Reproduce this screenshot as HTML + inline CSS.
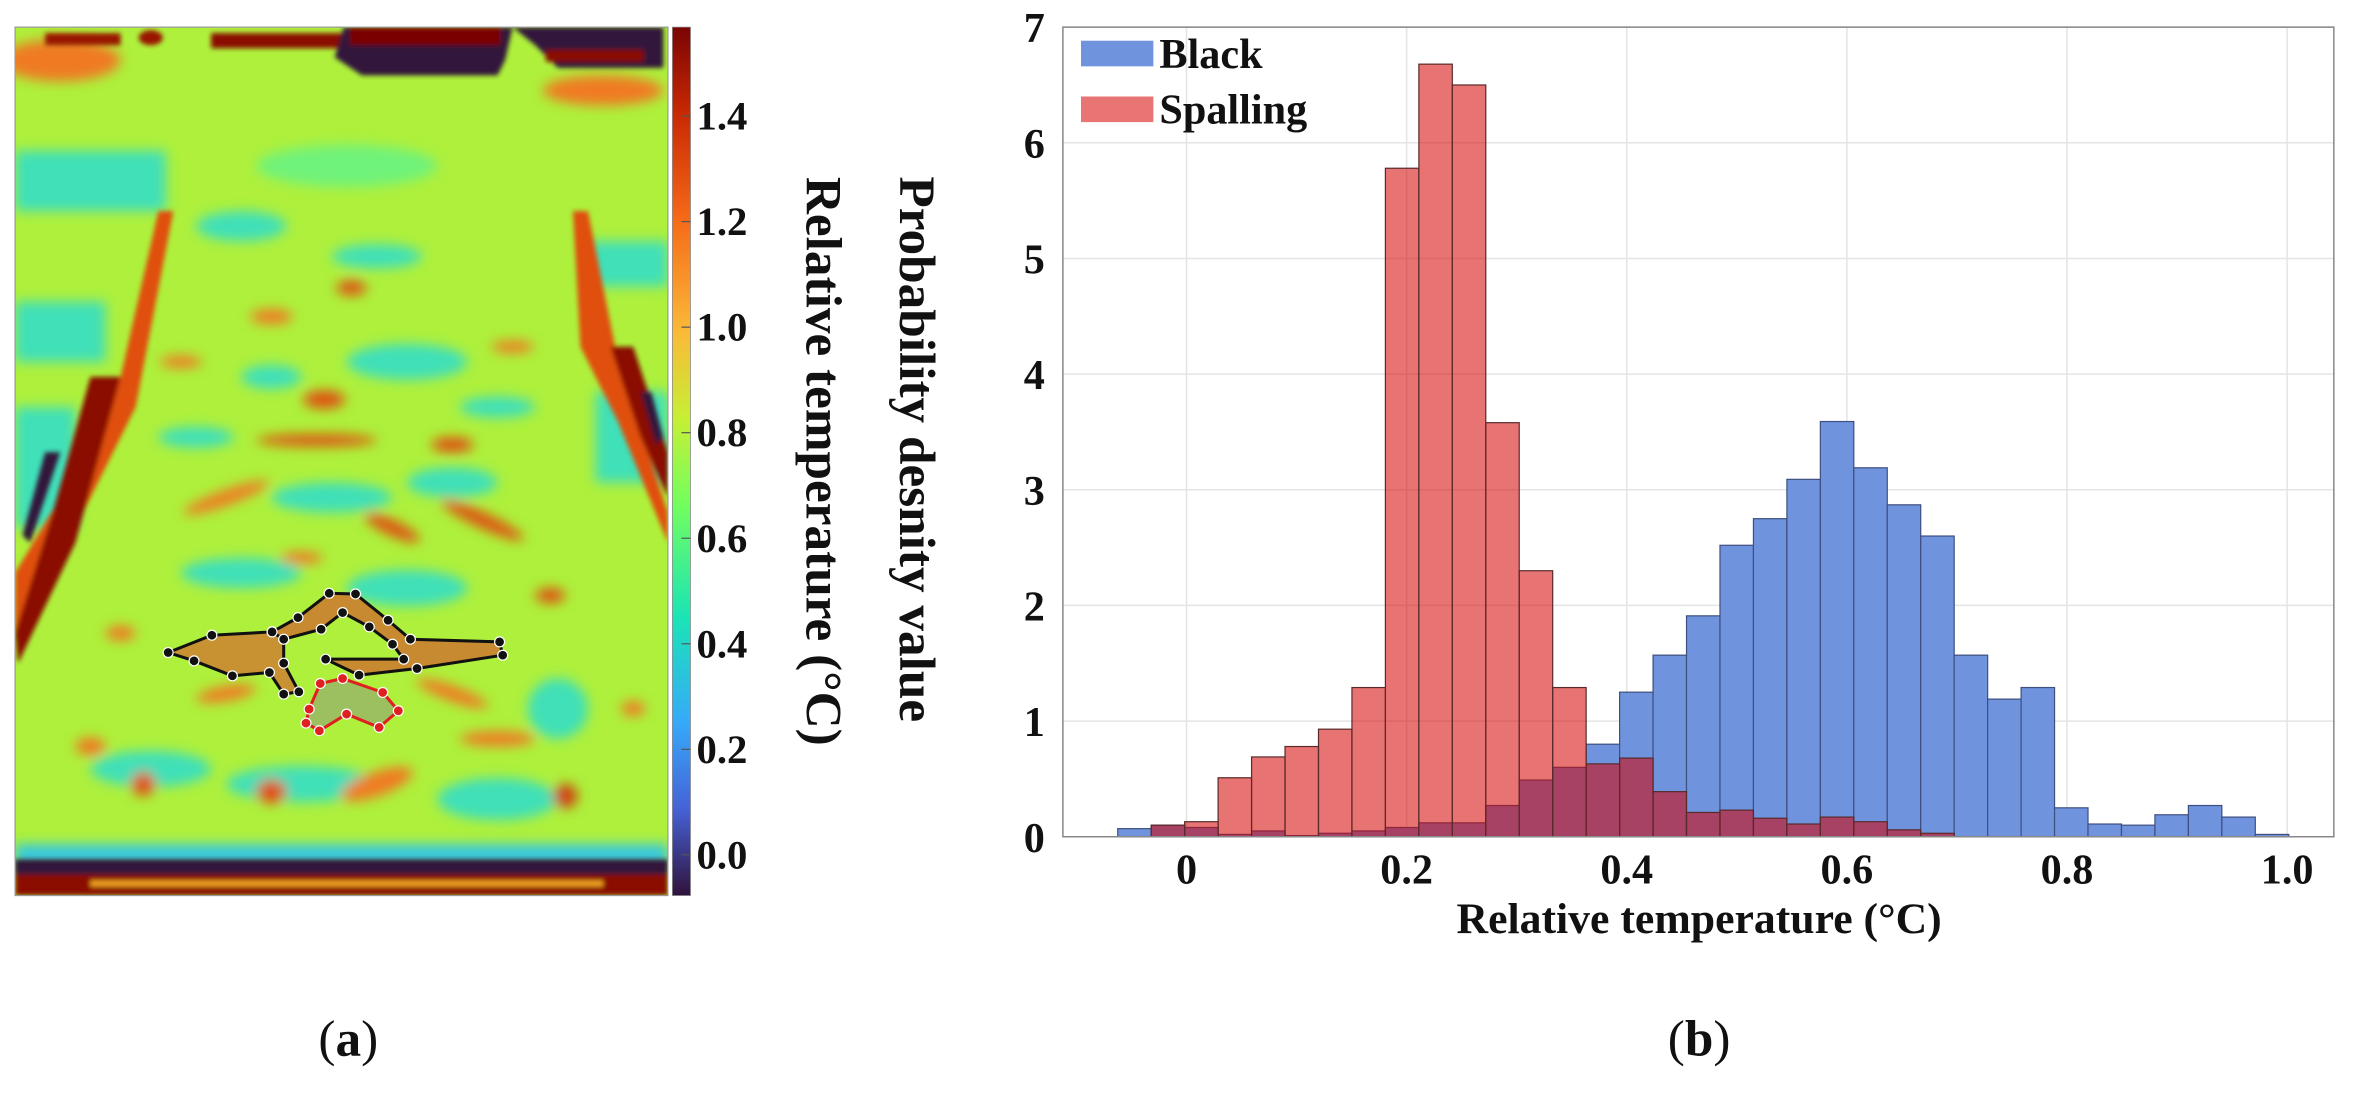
<!DOCTYPE html>
<html><head><meta charset="utf-8"><style>
html,body{margin:0;padding:0;background:#fff;}
svg{display:block;}
text{font-family:"Liberation Serif",serif;}
</style></head><body>
<svg id="root" width="2364" height="1095" viewBox="0 0 1568 726.3" preserveAspectRatio="none" xmlns="http://www.w3.org/2000/svg">
<defs>
<filter id="bl" x="-20%" y="-20%" width="140%" height="140%"><feGaussianBlur stdDeviation="4"/></filter>
<filter id="bl2" x="-20%" y="-20%" width="140%" height="140%"><feGaussianBlur stdDeviation="1.5"/></filter>
<linearGradient id="cbar" x1="0" y1="1" x2="0" y2="0">
<stop offset="0" stop-color="#30123b"/><stop offset="0.1" stop-color="#4662d7"/><stop offset="0.2" stop-color="#36aaf9"/>
<stop offset="0.32" stop-color="#1ae4b6"/><stop offset="0.45" stop-color="#72fe5e"/><stop offset="0.55" stop-color="#c7ef34"/>
<stop offset="0.65" stop-color="#fbb938"/><stop offset="0.78" stop-color="#f56918"/>
<stop offset="0.9" stop-color="#c92903"/><stop offset="1" stop-color="#7a0403"/></linearGradient>
<clipPath id="imclip"><rect x="10" y="18" width="433" height="576"/></clipPath>
</defs>

<g id="heatmap" clip-path="url(#imclip)">
<rect x="10" y="18" width="433" height="576" fill="#aef03c"/>
<g filter="url(#bl)">
<rect x="10" y="100" width="100" height="40" fill="#3fe0b8"/>
<rect x="10" y="200" width="60" height="40" fill="#3fe0b8"/>
<rect x="390" y="160" width="53" height="30" fill="#3fe0b8"/>
<rect x="395" y="260" width="48" height="60" fill="#3fe0b8"/>
<rect x="10" y="270" width="40" height="80" fill="#3fe0b8"/>
<ellipse cx="230" cy="110" rx="60" ry="14" fill="#6ff37a"/>
<ellipse cx="160" cy="150" rx="30" ry="10" fill="#3fe0b8"/>
<ellipse cx="270" cy="240" rx="40" ry="12" fill="#3fe0b8"/>
<ellipse cx="180" cy="250" rx="20" ry="8" fill="#3fe0b8"/>
<ellipse cx="220" cy="330" rx="40" ry="10" fill="#3fe0b8"/>
<ellipse cx="300" cy="320" rx="30" ry="10" fill="#3fe0b8"/>
<ellipse cx="160" cy="380" rx="40" ry="10" fill="#3fe0b8"/>
<ellipse cx="270" cy="390" rx="40" ry="12" fill="#3fe0b8"/>
<ellipse cx="200" cy="520" rx="50" ry="12" fill="#3fe0b8"/>
<ellipse cx="330" cy="530" rx="40" ry="14" fill="#3fe0b8"/>
<ellipse cx="100" cy="510" rx="40" ry="12" fill="#3fe0b8"/>
<ellipse cx="370" cy="470" rx="20" ry="20" fill="#3fe0b8"/>
<ellipse cx="250" cy="170" rx="30" ry="8" fill="#3fe0b8"/>
<ellipse cx="130" cy="290" rx="25" ry="7" fill="#3fe0b8"/>
<ellipse cx="330" cy="270" rx="25" ry="7" fill="#3fe0b8"/>
<rect x="10" y="560" width="433" height="14" fill="#36c8e0"/>
<ellipse cx="40" cy="40" rx="40" ry="14" fill="#f07a20"/>
<ellipse cx="400" cy="60" rx="40" ry="10" fill="#f07a20"/>
<ellipse cx="233" cy="191" rx="10" ry="5" fill="#e05010"/>
<ellipse cx="215" cy="265" rx="14" ry="6" fill="#e05010"/>
<ellipse cx="180" cy="210" rx="14" ry="5" fill="#f07a20"/>
<ellipse cx="210" cy="292" rx="40" ry="4" fill="#e05010"/>
<ellipse cx="300" cy="295" rx="14" ry="5" fill="#e05010"/>
<ellipse cx="150" cy="330" rx="30" ry="5" fill="#f07a20" transform="rotate(-20 150 330)"/>
<ellipse cx="320" cy="345" rx="30" ry="5" fill="#e05010" transform="rotate(25 320 345)"/>
<ellipse cx="260" cy="350" rx="20" ry="5" fill="#e05010" transform="rotate(25 260 350)"/>
<ellipse cx="150" cy="460" rx="20" ry="5" fill="#f07a20" transform="rotate(-10 150 460)"/>
<ellipse cx="300" cy="460" rx="25" ry="5" fill="#f07a20" transform="rotate(20 300 460)"/>
<ellipse cx="330" cy="490" rx="25" ry="5" fill="#f07a20"/>
<ellipse cx="375" cy="528" rx="8" ry="8" fill="#d04010"/>
<ellipse cx="95" cy="520" rx="8" ry="8" fill="#e05010"/>
<ellipse cx="60" cy="495" rx="10" ry="6" fill="#f07a20"/>
<ellipse cx="180" cy="525" rx="10" ry="8" fill="#e05010"/>
<ellipse cx="250" cy="520" rx="25" ry="8" fill="#f07a20" transform="rotate(-20 250 520)"/>
<ellipse cx="365" cy="395" rx="10" ry="5" fill="#e05010"/>
<ellipse cx="120" cy="240" rx="14" ry="4" fill="#f07a20"/>
<ellipse cx="340" cy="230" rx="14" ry="4" fill="#f07a20"/>
<ellipse cx="200" cy="370" rx="14" ry="4" fill="#f07a20"/>
<ellipse cx="80" cy="420" rx="10" ry="5" fill="#f07a20"/>
<ellipse cx="420" cy="470" rx="8" ry="5" fill="#f07a20"/>
</g>
<g filter="url(#bl2)">
<rect x="30" y="22" width="50" height="8" fill="#9a1505"/>
<ellipse cx="100" cy="25" rx="8" ry="5" fill="#9a1505"/>
<rect x="140" y="22" width="90" height="10" fill="#8a0a04"/>
<path d="M228,18 L340,18 L335,40 L330,50 L240,50 L222,38 Z" fill="#30123b"/>
<rect x="232" y="18" width="100" height="12" fill="#7a0403"/>
<path d="M340,18 L440,18 L440,45 L370,45 L355,30 Z" fill="#30123b"/>
<rect x="362" y="33" width="65" height="8" fill="#8a0a04"/>
<path d="M105,140 L115,140 L90,270 L40,370 L10,420 L10,380 L40,330 L80,250 Z" fill="#e05010"/>
<path d="M60,250 L80,250 L50,360 L12,440 L10,420 L35,340 Z" fill="#8a0a04"/>
<path d="M30,300 L40,300 L20,360 L15,355 Z" fill="#30123b"/>
<path d="M380,140 L390,140 L410,240 L443,340 L443,360 L410,280 L385,230 Z" fill="#e05010"/>
<path d="M405,230 L420,230 L443,300 L443,330 L425,290 Z" fill="#8a0a04"/>
<path d="M425,260 L432,260 L440,290 L435,295 Z" fill="#30123b"/>
<rect x="10" y="570" width="433" height="10" fill="#30123b"/>
<rect x="10" y="580" width="433" height="14" fill="#8a0a04"/>
<rect x="60" y="584" width="340" height="4" fill="#f0a020"/>
</g>
<g id="polys"></g>
</g>
<rect x="10" y="18" width="433" height="576" fill="none" stroke="#999" stroke-width="0.8"/>

<g id="colorbar">
<rect x="446" y="18" width="12" height="576" fill="url(#cbar)" stroke="#888" stroke-width="0.5"/>
</g>
<text transform="translate(535,306) rotate(90)" text-anchor="middle" font-size="34" font-weight="bold" fill="#111">Relative temperature (°C)</text>
<text transform="translate(597,298) rotate(90)" text-anchor="middle" font-size="34" font-weight="bold" fill="#111">Probability desnity value</text>

<g id="chart"></g>

<text x="1127" y="619" text-anchor="middle" font-size="29" font-weight="bold" fill="#111">Relative temperature (°C)</text>
<text x="231" y="700" text-anchor="middle" font-size="34" fill="#111">(<tspan font-weight="bold">a</tspan>)</text>
<text x="1127" y="700" text-anchor="middle" font-size="34" fill="#111">(<tspan font-weight="bold">b</tspan>)</text>
</svg>
<script>
const NS='http://www.w3.org/2000/svg';
const binStart=-0.0625;
const binWidth=0.0304;
const blackValues=[0.07,0.1,0.08,0.02,0.05,0.01,0.03,0.05,0.08,0.12,0.12,0.27,0.49,0.6,0.8,1.25,1.57,1.91,2.52,2.75,3.09,3.59,3.19,2.87,2.6,1.57,1.19,1.29,0.25,0.11,0.1,0.19,0.27,0.17,0.02];
const spallingValues=[0,0.1,0.13,0.51,0.69,0.78,0.93,1.29,5.78,6.68,6.5,3.58,2.3,1.29,0.63,0.68,0.39,0.21,0.23,0.16,0.11,0.17,0.13,0.06,0.03,0,0,0,0,0,0,0,0,0,0];
const xTicks=[0,0.2,0.4,0.6,0.8,1.0];
const xTickLabels=['0','0.2','0.4','0.6','0.8','1.0'];
const yTicks=[0,1,2,3,4,5,6,7];
const cbTicks=[0.0,0.2,0.4,0.6,0.8,1.0,1.2,1.4];
const cbTickLabels=['0.0','0.2','0.4','0.6','0.8','1.0','1.2','1.4'];
const seriesNames=['Black','Spalling'];

const PL=705,PR=1548,PT=18,PB=555;
const xs=v=>787+v*730;
const ys=v=>PB-v*(PB-PT)/7;
const cbs=v=>567-v*350;
function mk(tag,attrs,parent){const e=document.createElementNS(NS,tag);for(const k in attrs)e.setAttribute(k,attrs[k]);parent.appendChild(e);return e;}
const chart=document.getElementById('chart');
const cb=document.getElementById('colorbar');

cbTicks.forEach((t,i)=>{
  const y=cbs(t);
  const l=mk('line',{x1:452,x2:458,y1:y,y2:y,stroke:'#555','stroke-width':0.8},cb);
  
  
  const tx=mk('text',{x:462,y:y+9,'font-size':27,'font-weight':'bold',fill:'#111'},cb);
  tx.textContent=cbTickLabels[i];
  
  
});

mk('rect',{x:PL,y:PT,width:PR-PL,height:PB-PT,fill:'#fff'},chart);
yTicks.forEach(t=>{
  const y=ys(t);
  const g=mk('line',{x1:PL,x2:PR,y1:y,y2:y,stroke:'#e4e4e4','stroke-width':1},chart);
  
  
  const tx=mk('text',{x:PL-12,y:y+10,'text-anchor':'end','font-size':28,'font-weight':'bold',fill:'#111'},chart);
  tx.textContent=String(t);
  
  
});
xTicks.forEach((t,i)=>{
  const x=xs(t);
  const g=mk('line',{x1:x,x2:x,y1:PT,y2:PB,stroke:'#e4e4e4','stroke-width':1},chart);
  
  
  const tx=mk('text',{x:x,y:PB+31,'text-anchor':'middle','font-size':28,'font-weight':'bold',fill:'#111'},chart);
  tx.textContent=xTickLabels[i];
  
  
});
blackValues.forEach((v,i)=>{
  if(v<=0)return;
  const x0=xs(binStart+i*binWidth),x1=xs(binStart+(i+1)*binWidth);
  const r=mk('rect',{x:x0,y:ys(v),width:x1-x0,height:ys(0)-ys(v),fill:'#7093de',stroke:'#3e4f80','stroke-width':0.8},chart);
  
  
});
spallingValues.forEach((v,i)=>{
  if(v<=0)return;
  const x0=xs(binStart+i*binWidth),x1=xs(binStart+(i+1)*binWidth);
  const r=mk('rect',{x:x0,y:ys(v),width:x1-x0,height:ys(0)-ys(v),fill:'rgba(213,0,0,0.55)',stroke:'#5a2a2a','stroke-width':0.8},chart);
  
  
});
const frame=mk('rect',{x:PL,y:PT,width:PR-PL,height:PB-PT,fill:'none',stroke:'#888','stroke-width':1},chart);


const legColors=['#7093de','#e87474'];
seriesNames.forEach((n,i)=>{
  const y=27+i*37;
  const r=mk('rect',{x:717,y:y,width:48,height:17,fill:legColors[i]},chart);
  
  
  const t=mk('text',{x:769,y:y+18,'font-size':28,'font-weight':'bold',fill:'#111'},chart);
  t.textContent=n;
  
  
});

const cv=p=>[p[0]/3.38,371+p[1]/4.53];
const polys=document.getElementById('polys');
function poly(pts,fill,stroke,dot){
  const P=pts.map(cv);
  const pg=mk('polygon',{points:P.map(p=>p.join(',')).join(' '),fill:fill,stroke:stroke,'stroke-width':2},polys);
  
  
  P.forEach(p=>{
    const c=mk('circle',{cx:p[0],cy:p[1],r:3.3,fill:dot,stroke:'#fff','stroke-width':0.8},polys);
    
    
  });
}
poly([[377,280],[475,228],[610,218],[636,240],[636,312],[670,398],[636,405],[604,340],[521,350],[435,305]],'#c89232','#111','#111');
poly([[610,218],[668,175],[738,102],[797,104],[870,183],[920,240],[1120,248],[1127,288],[935,328],[805,348],[730,300],[905,300],[880,255],[828,203],[768,160],[720,210],[636,240]],'#c88a30','#111','#111');
poly([[718,373],[768,358],[858,400],[893,455],[850,505],[777,465],[716,515],[686,492],[693,450]],'#9cc060','#e02020','#e02020');
</script>
</body></html>
